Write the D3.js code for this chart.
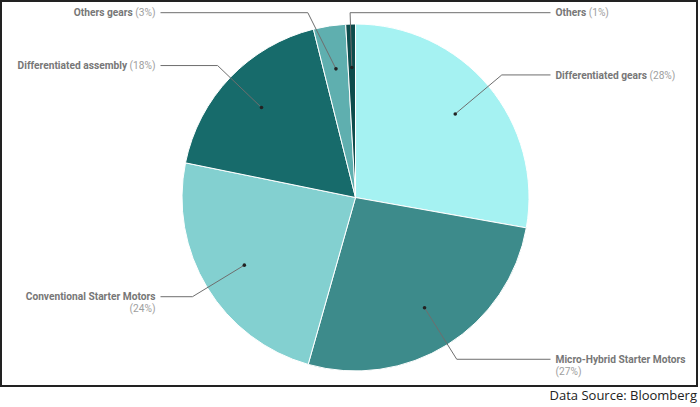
<!DOCTYPE html>
<html>
<head>
<meta charset="utf-8">
<script src="https://cdn.jsdelivr.net/npm/d3@7"></script>
<style>
  html, body { margin: 0; padding: 0; background: #fff; }
  svg { display: block; }
</style>
</head>
<body>
<svg id="chart" width="700" height="407"></svg>
<script>
// ---- data ----
const categories = ["Differentiated gears", "Micro-Hybrid Starter Motors", "Conventional Starter Motors",
                    "Differentiated assembly", "Others gears", "Others"];
const values = [27.8, 26.6, 23.8, 17.9, 3.0, 0.9];
const colors = ["#a5f2f2", "#3d8b8b", "#83d0d0", "#176b6b", "#5fafaf", "#0d4c4c"];
const sourceText = "Data Source: Bloomberg";

// ---- layout ----
const W = 700, H = 407;
const cx = 355.5, cy = 197.5, r = 173.5;
const svg = d3.select("#chart");

svg.append("rect").attr("x", 1).attr("y", 1).attr("width", 696).attr("height", 385)
  .attr("fill", "#fff").attr("stroke", "#222").attr("stroke-width", 2);

const total = d3.sum(values);
const pie = d3.pie().sort(null).value(d => d.value);
const arcs = pie(categories.map((c, i) => ({ name: c, value: values[i], color: colors[i] })));
const arc = d3.arc().innerRadius(0).outerRadius(r);

const g = svg.append("g").attr("transform", `translate(${cx},${cy})`);
g.selectAll("path.slice").data(arcs).join("path")
  .attr("class", "slice")
  .attr("d", arc)
  .attr("fill", d => d.data.color)
  .attr("stroke", "#fff").attr("stroke-width", 1);

// labels
const dotR = 0.75 * r, elbowR = 1.1 * r, lineEnd = 195, textOff = 200, topMin = 12.7 - cy;
const fmt = v => Math.round(v / total * 100) + "%";
const maxW = 145;

arcs.forEach(d => {
  const mid = (d.startAngle + d.endAngle) / 2;
  const s = Math.sin(mid), c = Math.cos(mid);
  const right = s > -0.05;
  const dot = [dotR * s, -dotR * c];
  let ex = elbowR * s, ey = -elbowR * c;
  if (ey < topMin) {
    ey = topMin;
    const circX = Math.sign(s) * Math.sqrt(Math.max(0, elbowR * elbowR - ey * ey));
    ex = right ? Math.max(circX, elbowR * s) : Math.min(circX, elbowR * s);
  }
  const hx = right ? lineEnd : -lineEnd;
  g.append("path")
    .attr("d", `M${dot[0]},${dot[1]}L${ex},${ey}L${hx},${ey}`)
    .attr("fill", "none").attr("stroke", "#6e6e6e").attr("stroke-width", 1);
  g.append("circle").attr("cx", dot[0]).attr("cy", dot[1]).attr("r", 1.8).attr("fill", "#222");

  const tx = right ? textOff : -textOff;
  const anchor = right ? "start" : "end";
  const t = g.append("text")
    .attr("x", tx).attr("y", ey).attr("dy", "0.35em")
    .attr("text-anchor", anchor)
    .style("font-family", "Roboto, sans-serif").style("font-size", "10.2px");
  t.append("tspan").attr("font-weight", 700).attr("fill", "#777").text(d.data.name);
  t.append("tspan").attr("fill", "#9e9e9e").text(" (" + fmt(d.data.value) + ")");
  if (t.node().getComputedTextLength() > maxW) {
    t.selectAll("tspan").remove();
    t.append("tspan").attr("font-weight", 700).attr("fill", "#777").text(d.data.name);
    t.append("tspan").attr("x", tx).attr("dy", "1.15em").attr("fill", "#9e9e9e").text("(" + fmt(d.data.value) + ")");
  }
});

svg.append("text").attr("x", 697).attr("y", 399.5).attr("text-anchor", "end")
  .style("font-family", "'Open Sans', sans-serif").style("font-size", "13px")
  .attr("fill", "#222").text(sourceText);
</script>
</body>
</html>
